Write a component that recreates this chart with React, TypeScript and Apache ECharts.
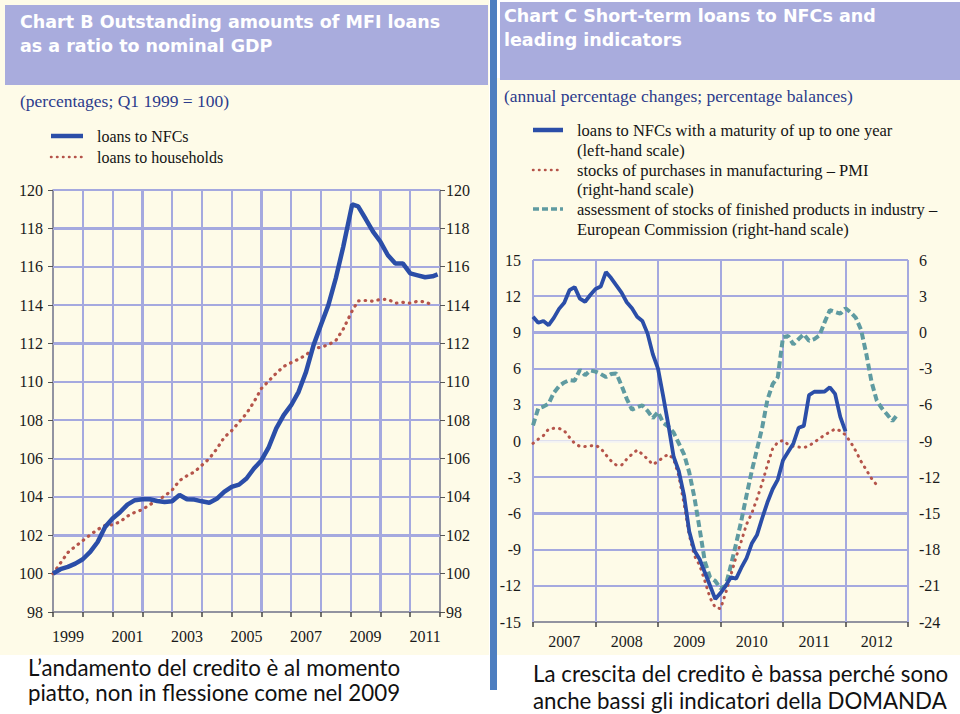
import React, { useEffect, useRef } from "react";
import * as echarts from "echarts";

// ---------- Chart B data (quarterly, Q1 1999 = 100) ----------
const bYearLabels = ["1999","2000","2001","2002","2003","2004","2005","2006","2007","2008","2009","2010","2011"];
const bLeftTicks = [98, 100, 102, 104, 106, 108, 110, 112, 114, 116, 118, 120];
const bNFC = [
  100.0, 100.23, 100.35, 100.52,
  100.75, 101.13, 101.65, 102.43,
  102.87, 103.2, 103.6, 103.83,
  103.88, 103.88, 103.79, 103.74,
  103.77, 104.1, 103.88, 103.86,
  103.77, 103.7, 103.9, 104.26,
  104.52, 104.64, 104.96, 105.48,
  105.9, 106.6, 107.57, 108.26,
  108.78, 109.48, 110.52, 111.9,
  112.96, 114.0, 115.4, 117.04,
  119.25, 119.15, 118.5, 117.83,
  117.3, 116.6, 116.17, 116.17,
  115.65, 115.55, 115.45, 115.5,
  115.6,
];
const bHouseholds = [
  100.0, 100.55, 101.1, 101.42,
  101.72, 102.02, 102.3, 102.52,
  102.55, 102.7, 103.0, 103.2,
  103.33, 103.6, 103.8, 104.05,
  104.35, 104.85, 105.1, 105.3,
  105.65, 106.0, 106.5, 107.1,
  107.45, 107.9, 108.35, 108.95,
  109.65, 110.05, 110.45, 110.8,
  111.0, 111.18, 111.4, 111.75,
  111.8, 111.93, 112.15, 112.75,
  113.7, 114.22, 114.24, 114.2,
  114.3, 114.3, 114.1, 114.14,
  114.1, 114.2, 114.17, 114.0,
];
// quarter positions in years; the blue series ends in late 2011
const bTimes = [
  1999.0, 1999.25, 1999.5, 1999.75, 2000.0, 2000.25, 2000.5, 2000.75,
  2001.0, 2001.25, 2001.5, 2001.75, 2002.0, 2002.25, 2002.5, 2002.75,
  2003.0, 2003.25, 2003.5, 2003.75, 2004.0, 2004.25, 2004.5, 2004.75,
  2005.0, 2005.25, 2005.5, 2005.75, 2006.0, 2006.25, 2006.5, 2006.75,
  2007.0, 2007.25, 2007.5, 2007.75, 2008.0, 2008.25, 2008.5, 2008.75,
  2009.05, 2009.25, 2009.5, 2009.75, 2010.0, 2010.25, 2010.5, 2010.75,
  2011.0, 2011.25, 2011.5, 2011.75, 2011.92,
];
const bYearBounds = [1999, 2000, 2001, 2002, 2003, 2004, 2005, 2006, 2007, 2008, 2009, 2010, 2011, 2012];

// ---------- Chart C data (monthly from Jan 2007) ----------
const cYearLabels = ["2007","2008","2009","2010","2011","2012"];
const cYearBounds = [2007, 2008, 2009, 2010, 2011, 2012, 2013];
const cLeftTicks = [-15, -12, -9, -6, -3, 0, 3, 6, 9, 12, 15];
const cRightTicks = [-24, -21, -18, -15, -12, -9, -6, -3, 0, 3, 6];
const cLoansShortTerm = [
  10.3, 9.8, 9.95, 9.6, 10.2, 10.95, 11.45, 12.5, 12.75, 11.8,
  11.54, 12.1, 12.6, 12.8, 14.0, 13.5, 12.9, 12.3, 11.5, 11.0,
  10.3, 9.95, 8.9, 7.2, 6.0, 3.7, 1.3, -1.3, -2.5, -4.5,
  -7.5, -9.1, -9.8, -10.9, -12.0, -13.1, -12.6, -12.0, -11.3, -11.4,
  -10.5, -9.7, -8.5, -7.8, -6.4, -5.1, -4.0, -3.2, -1.6, -0.9,
  -0.2, 1.1, 1.25, 3.8, 4.08, 4.08, 4.1, 4.45, 3.9, 2.0,
  0.8,
];
const cPMIStocks = [
  -9.2, -8.85, -8.55, -8.0, -7.95, -7.95, -8.15, -8.7, -9.2, -9.45,
  -9.45, -9.4, -9.35, -9.6, -10.15, -10.65, -11.0, -11.0, -10.5, -10.1,
  -9.75, -10.1, -10.5, -10.95, -10.7, -10.35, -10.1, -10.5, -11.9, -14.2,
  -16.8, -18.5, -19.3, -20.6, -22.0, -22.8, -22.9, -21.6, -20.1, -18.6,
  -17.3, -15.9, -15.0, -13.8, -12.5, -11.0, -9.65, -9.1, -8.95, -9.3,
  -9.45, -9.5, -9.55, -9.4, -9.1, -8.8, -8.5, -8.25, -8.0, -8.15,
  -8.5, -9.1, -9.85, -10.7, -11.4, -12.1, -12.65,
];
const cECStocks = [
  -7.7, -6.3, -6.15, -5.9, -5.0, -4.45, -4.15, -3.95, -4.0, -3.1,
  -3.55, -3.15, -3.25, -3.45, -3.7, -3.45, -3.4, -4.4, -5.5, -6.4,
  -6.2, -6.05, -6.5, -7.1, -6.6, -7.5, -7.8, -8.3, -9.2, -10.1,
  -11.6, -13.7, -16.3, -19.0, -20.3, -20.6, -21.2, -21.0, -19.3, -17.5,
  -15.6, -13.5, -11.5, -9.7, -7.9, -5.6, -4.3, -3.7, -0.4, -0.3,
  -1.0, -0.55, -0.15, -0.7, -0.55, -0.25, 0.85, 1.85, 1.7, 1.55,
  2.0, 1.65, 1.2, 0.2, -1.8, -4.1, -5.65, -6.3, -6.8, -7.35,
  -6.8,
];

const GRID = "#a5a9df";
const CREAM = "#fefbe8";
const HEADER = "#a9acdd";
const BLUE = "#2b4ea8";
const RED = "#b5544a";
const TEAL = "#5f9ba1";
const SERIF = "Liberation Serif";
const AXIS = "#8c8c8c";
const ZERO_LINE = "#f3f3f3";

// plot rectangles (layout)
const B_BOX = { left: 53, top: 190, width: 387, height: 422 };
const C_BOX = { left: 533, top: 260, width: 375, height: 362 };

const monthX = (i: number) => 2007 + i / 12;

const axisLabelStyle = { fontFamily: SERIF, fontSize: 16, color: "#1a1a1a" };
const serifText = (text: string, x: number, y: number, size = 16, fill = "#141414") => ({
  type: "text",
  z: 20,
  style: { text, x, y, fill, font: `${size}px "${SERIF}"`, verticalAlign: "middle" },
});
const titleText = (text: string, x: number, y: number) => ({
  type: "text",
  z: 20,
  style: { text, x, y, fill: "#ffffff", font: 'bold 17.5px "DejaVu Sans"', verticalAlign: "middle" },
});
const captionText = (text: string, x: number, y: number) => ({
  type: "text",
  z: 20,
  style: { text, x, y, fill: "#111", font: '22.3px "Lato"', verticalAlign: "middle" },
});

const gridItem = (key: "xAxis" | "yAxis", v: number, color = GRID, width = 2) => ({
  [key]: v,
  lineStyle: { color, width, type: "solid", opacity: 1 },
});
const gridMarkLine = (data: any[]) => ({
  silent: true,
  symbol: ["none", "none"],
  z: 1,
  label: { show: false },
  lineStyle: { color: GRID, width: 2, type: "solid", opacity: 1 },
  data,
});

function optionB(): any {
  const hLines = bLeftTicks.slice(1).map((v) => gridItem("yAxis", v));
  const vLines = bYearBounds.slice(1, -1).map((y) => gridItem("xAxis", y));
  return {
    animation: false,
    backgroundColor: "transparent",
    grid: [B_BOX],
    xAxis: [
      {
        gridIndex: 0, type: "value", min: bYearBounds[0], max: bYearBounds[bYearBounds.length - 1], interval: 1,
        axisLine: { onZero: false, lineStyle: { color: AXIS, width: 1.5 } },
        axisTick: { show: true, length: 5, lineStyle: { color: "#444", width: 1.5 } },
        axisLabel: { show: false },
        splitLine: { show: true, lineStyle: { color: GRID, width: 2, opacity: 1 } },
      },
      {
        gridIndex: 0, type: "category", data: bYearLabels, boundaryGap: true, position: "bottom",
        axisLine: { show: false }, axisTick: { show: false },
        axisLabel: { ...axisLabelStyle, interval: 1, margin: 16 },
        splitLine: { show: false },
      },
    ],
    yAxis: [
      {
        gridIndex: 0, type: "value", position: "left", min: bLeftTicks[0], max: bLeftTicks[bLeftTicks.length - 1], interval: 2,
        axisLine: { show: true, onZero: false, lineStyle: { color: AXIS, width: 1.5 } },
        axisTick: { show: true, length: 5, lineStyle: { color: "#555" } },
        axisLabel: { ...axisLabelStyle, margin: 10 },
        splitLine: { show: true, lineStyle: { color: GRID, width: 2, opacity: 1 } },
      },
      {
        gridIndex: 0, type: "value", position: "right", min: bLeftTicks[0], max: bLeftTicks[bLeftTicks.length - 1], interval: 2,
        axisLine: { show: true, onZero: false, lineStyle: { color: AXIS, width: 1.5 } },
        axisTick: { show: true, length: 5, lineStyle: { color: "#555" } },
        axisLabel: { ...axisLabelStyle, margin: 6 },
        splitLine: { show: false },
      },
    ],
    series: [
      {
        name: "loans to households", type: "line", xAxisIndex: 0, yAxisIndex: 0,
        data: bHouseholds.map((v, i) => [bTimes[i], v]),
        symbol: "none", z: 3,
        lineStyle: { color: RED, width: 3.2, type: [0.5, 6], cap: "round" },
        markLine: gridMarkLine([...hLines, ...vLines]),
      },
      {
        name: "loans to NFCs", type: "line", xAxisIndex: 0, yAxisIndex: 0,
        data: bNFC.map((v, i) => [bTimes[i], v]),
        symbol: "none", z: 4,
        lineStyle: { color: BLUE, width: 4.5 },
      },
    ],
    graphic: [
      titleText("Chart B Outstanding amounts of MFI loans", 20, 22),
      titleText("as a ratio to nominal GDP", 20, 46),
      serifText("(percentages; Q1 1999 = 100)", 20, 101, 17.5, "#2c3b8c"),
      { type: "line", z: 20, shape: { x1: 51, y1: 136, x2: 83, y2: 136 }, style: { stroke: BLUE, lineWidth: 4.5 } },
      serifText("loans to NFCs", 97, 136),
      { type: "line", z: 20, shape: { x1: 51, y1: 157, x2: 83, y2: 157 }, style: { stroke: RED, lineWidth: 2.5, lineDash: [0.5, 5.5], lineCap: "round" } },
      serifText("loans to households", 97, 157),
      captionText("L’andamento del credito è al momento", 28, 667),
      captionText("piatto, non in flessione come nel 2009", 28, 692),
    ],
  };
}

function optionC(): any {
  const hLines = cLeftTicks.slice(1).map((v) => (v === 0 ? gridItem("yAxis", v, ZERO_LINE, 2.5) : gridItem("yAxis", v)));
  const vLines = cYearBounds.map((y) => gridItem("xAxis", y));
  return {
    animation: false,
    backgroundColor: "transparent",
    grid: [C_BOX],
    xAxis: [
      {
        gridIndex: 0, type: "value", min: cYearBounds[0], max: cYearBounds[cYearBounds.length - 1], interval: 1,
        axisLine: { onZero: false, lineStyle: { color: AXIS, width: 1.5 } },
        axisTick: { show: true, length: 5, lineStyle: { color: "#444", width: 1.5 } },
        axisLabel: { show: false },
        splitLine: { show: true, lineStyle: { color: GRID, width: 2, opacity: 1 } },
      },
      {
        gridIndex: 0, type: "category", data: cYearLabels, boundaryGap: true, position: "bottom",
        axisLine: { show: false }, axisTick: { show: false },
        axisLabel: { ...axisLabelStyle, interval: 0, margin: 11 },
        splitLine: { show: false },
      },
    ],
    yAxis: [
      {
        gridIndex: 0, type: "value", position: "left", min: cLeftTicks[0], max: cLeftTicks[cLeftTicks.length - 1], interval: 3,
        axisLine: { show: false, onZero: false },
        axisTick: { show: false },
        axisLabel: { ...axisLabelStyle, margin: 12 },
        splitLine: { show: true, lineStyle: { color: GRID, width: 2, opacity: 1 } },
      },
      {
        gridIndex: 0, type: "value", position: "right", min: cRightTicks[0], max: cRightTicks[cRightTicks.length - 1], interval: 3,
        axisLine: { show: false, onZero: false },
        axisTick: { show: false },
        axisLabel: { ...axisLabelStyle, margin: 11 },
        splitLine: { show: false },
      },
    ],
    series: [
      {
        name: "assessment of stocks of finished products in industry", type: "line", xAxisIndex: 0, yAxisIndex: 1,
        data: cECStocks.map((v, i) => [monthX(i), v]),
        symbol: "none", z: 3,
        lineStyle: { color: TEAL, width: 4, type: [7, 3.5] },
      },
      {
        name: "stocks of purchases in manufacturing – PMI", type: "line", xAxisIndex: 0, yAxisIndex: 1,
        data: cPMIStocks.map((v, i) => [monthX(i), v]),
        symbol: "none", z: 3,
        lineStyle: { color: RED, width: 3, type: [0.5, 6], cap: "round" },
      },
      {
        name: "loans to NFCs with a maturity of up to one year", type: "line", xAxisIndex: 0, yAxisIndex: 0,
        data: cLoansShortTerm.map((v, i) => [monthX(i), v]),
        symbol: "none", z: 4,
        lineStyle: { color: BLUE, width: 3.8 },
        markLine: gridMarkLine([...hLines, ...vLines]),
      },
    ],
    graphic: [
      titleText("Chart C Short-term loans to NFCs and", 504, 16),
      titleText("leading indicators", 504, 40),
      serifText("(annual percentage changes; percentage balances)", 504, 96, 17.5, "#2c3b8c"),
      { type: "line", z: 20, shape: { x1: 533, y1: 130, x2: 563, y2: 130 }, style: { stroke: BLUE, lineWidth: 4.5 } },
      serifText("loans to NFCs with a maturity of up to one year", 577, 130, 16.5),
      serifText("(left-hand scale)", 577, 150, 16.5),
      { type: "line", z: 20, shape: { x1: 533, y1: 170, x2: 563, y2: 170 }, style: { stroke: RED, lineWidth: 2.5, lineDash: [0.5, 5.5], lineCap: "round" } },
      serifText("stocks of purchases in manufacturing – PMI", 577, 170, 16.5),
      serifText("(right-hand scale)", 577, 189, 16.5),
      { type: "line", z: 20, shape: { x1: 533, y1: 209, x2: 563, y2: 209 }, style: { stroke: TEAL, lineWidth: 3.5, lineDash: [6, 3] } },
      serifText("assessment of stocks of finished products in industry –", 577, 209, 16.5),
      serifText("European Commission (right-hand scale)", 577, 229, 16.5),
      captionText("La crescita del credito è bassa perché sono", 533, 673),
      captionText("anche bassi gli indicatori della DOMANDA", 533, 700),
    ],
  };
}

function ChartLayer({ build }: { build: () => any }) {
  const ref = useRef<HTMLDivElement>(null);
  useEffect(() => {
    const chart = echarts.init(ref.current!, undefined, { renderer: "svg" });
    chart.setOption(build());
    return () => chart.dispose();
  }, []);
  return <div ref={ref} style={{ position: "absolute", left: 0, top: 0, width: 960, height: 714 }} />;
}

// background grid lines underneath the chart layers (same linear mapping as the grids)
function GridBackdrop({ box, xMin, xMax, yMin, yMax, xs, ys, zeroY }: any) {
  const px = (x: number) => box.left + ((x - xMin) / (xMax - xMin)) * box.width;
  const py = (y: number) => box.top + ((yMax - y) / (yMax - yMin)) * box.height;
  return (
    <>
      {ys.map((y: number) => (
        <div key={"h" + y} style={{ position: "absolute", left: box.left, top: Math.round(py(y)) - 1, width: box.width, height: 2, background: y === zeroY ? ZERO_LINE : GRID }} />
      ))}
      {xs.map((x: number) => (
        <div key={"v" + x} style={{ position: "absolute", left: Math.round(px(x)) - 1, top: box.top, width: 2, height: box.height, background: GRID }} />
      ))}
    </>
  );
}

export default function App() {
  useEffect(() => {
    document.body.style.margin = "0";
  }, []);
  const box = (left: number, top: number, width: number, height: number, background: string) => (
    <div style={{ position: "absolute", left, top, width, height, background }} />
  );
  return (
    <div style={{ position: "absolute", left: 0, top: 0, width: 960, height: 714, background: "#ffffff", overflow: "hidden" }}>
      {box(0, 0, 489, 655, CREAM)}
      {box(497, 78, 463, 577, CREAM)}
      {box(5, 5, 483, 80, HEADER)}
      {box(500, 2, 460, 78, HEADER)}
      {box(490, 0, 7, 690, "#4d7ec0")}
      <GridBackdrop
        box={B_BOX} xMin={bYearBounds[0]} xMax={bYearBounds[bYearBounds.length - 1]}
        yMin={bLeftTicks[0]} yMax={bLeftTicks[bLeftTicks.length - 1]}
        xs={bYearBounds.slice(1, -1)} ys={bLeftTicks.slice(1)} zeroY={null}
      />
      <GridBackdrop
        box={C_BOX} xMin={cYearBounds[0]} xMax={cYearBounds[cYearBounds.length - 1]}
        yMin={cLeftTicks[0]} yMax={cLeftTicks[cLeftTicks.length - 1]}
        xs={cYearBounds} ys={cLeftTicks.slice(1)} zeroY={0}
      />
      <ChartLayer build={optionB} />
      <ChartLayer build={optionC} />
    </div>
  );
}
